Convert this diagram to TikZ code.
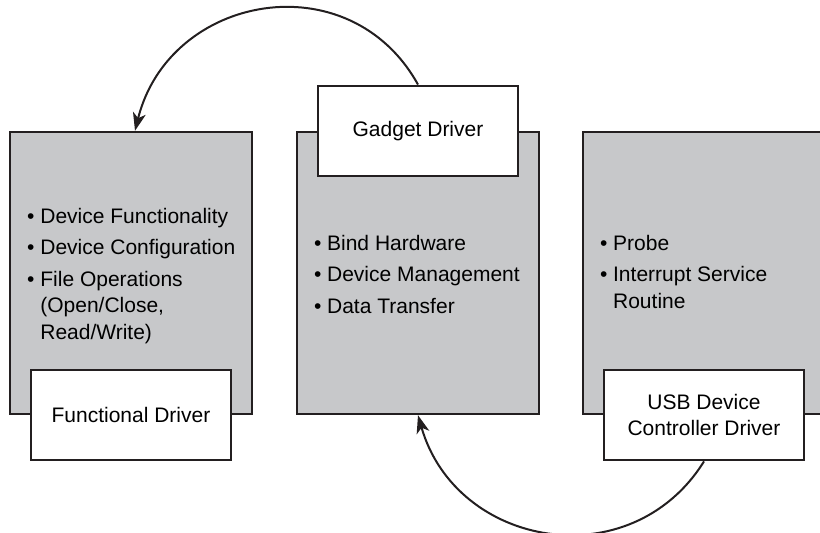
\documentclass[tikz,border=0pt]{standalone}
\usepackage{fontspec}
\setmainfont{Liberation Sans}
\usetikzlibrary{arrows.meta,positioning}
\definecolor{boxgray}{RGB}{199,200,202}
\definecolor{edge}{RGB}{35,31,32}
\newcommand{\drvfont}{\fontsize{21}{26.5}\selectfont}
\newcommand{\blt}{\textbullet}
\tikzset{
  box-gray/.style={draw=edge,fill=boxgray,line width=2.4pt,minimum width=242pt,minimum height=282pt,inner sep=0pt},
  box-drv/.style={draw=edge,fill=white,line width=2.4pt,minimum width=200pt,minimum height=90pt,inner sep=0pt,align=center,font=\drvfont},
  list-txt/.style={anchor=north west,inner sep=0pt,font=\drvfont},
  flow/.style={-{Stealth[length=18pt,width=13pt,inset=5pt]},line width=2pt,draw=edge},
}

\begin{document}
\begin{tikzpicture}[x=1pt,y=-1pt]
  \clip (0,0) rectangle (820,533);

  % the three layers
  \node[box-gray] (fgray) at (131,273) {};
  \node[box-gray] (mgray) at (418,273) {};
  \node[box-gray] (rgray) at (704,273) {};

  % what each layer does
  \node[list-txt] (flist) at (27,204.5) {\begin{tabular}{@{}l@{\hspace{5.8pt}}l@{}}
    \blt & Device Functionality\\[5pt]
    \blt & Device Configuration\\[5pt]
    \blt & File Operations\\
         & (Open/Close,\\
         & Read/Write)
  \end{tabular}};
  \node[list-txt] (mlist) at (313.8,231.5) {\begin{tabular}{@{}l@{\hspace{5.8pt}}l@{}}
    \blt & Bind Hardware\\[5pt]
    \blt & Device Management\\[5pt]
    \blt & Data Transfer
  \end{tabular}};
  \node[list-txt] (rlist) at (599.8,231.5) {\begin{tabular}{@{}l@{\hspace{5.8pt}}l@{}}
    \blt & Probe\\[5pt]
    \blt & Interrupt Service\\
         & Routine
  \end{tabular}};

  % driver labels sit on the layer edges
  \node[box-drv] (func)   at (fgray.south) {Functional Driver};
  \node[box-drv] (gadget) at (mgray.north) {Gadget Driver};
  \node[box-drv] (udc)    at (rgray.south) {USB Device\\Controller Driver};

  \draw[flow] (gadget.north) to[out=119,in=76,looseness=1.26] ([xshift=4pt]fgray.north);
  \draw[flow] (udc.south) to[out=-122,in=-74,looseness=1.22] (mgray.south);
\end{tikzpicture}
\end{document}
